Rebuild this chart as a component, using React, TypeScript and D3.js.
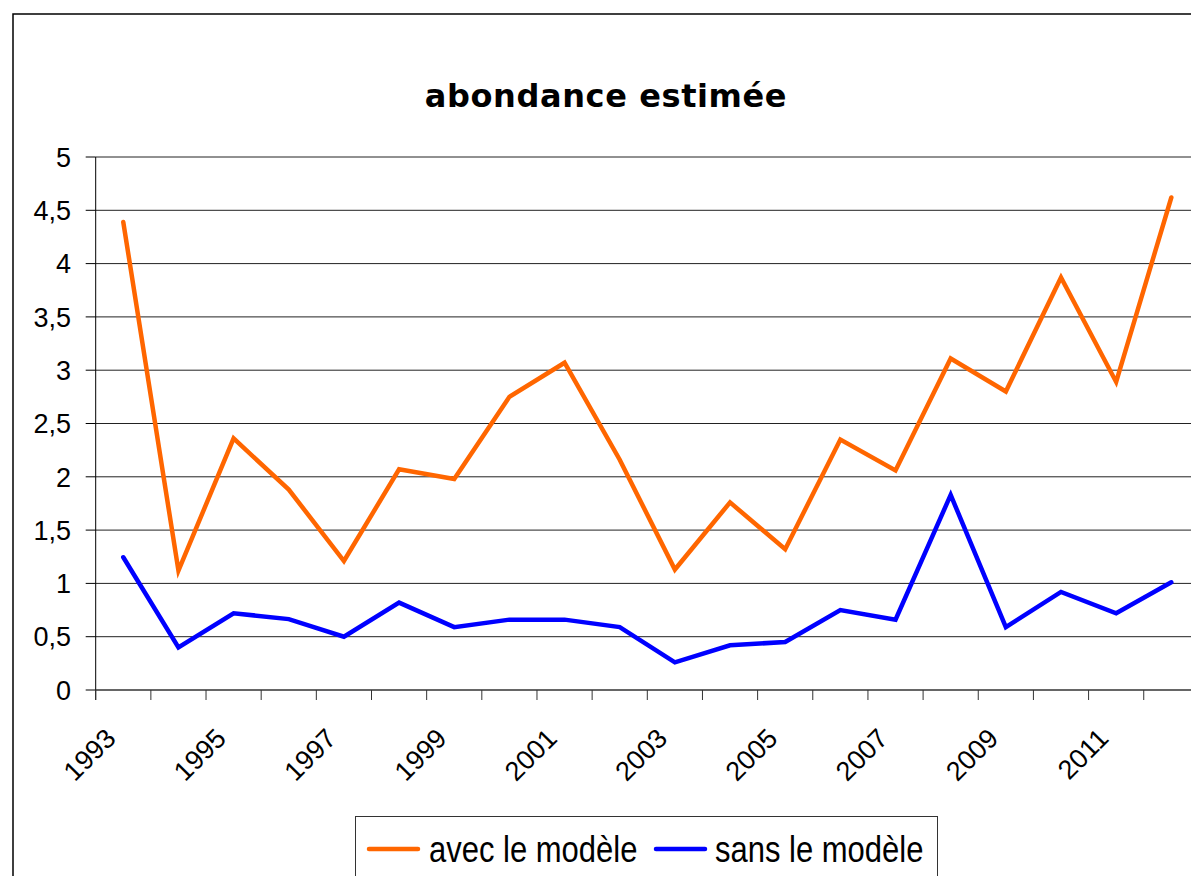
import React from "react";
import * as d3 from "d3";

const years = [
  "1993", "1994", "1995", "1996", "1997", "1998", "1999", "2000", "2001", "2002",
  "2003", "2004", "2005", "2006", "2007", "2008", "2009", "2010", "2011", "2012",
];

const avecModele = [
  4.39, 1.12, 2.36, 1.88, 1.21, 2.07, 1.98, 2.75, 3.07, 2.16,
  1.13, 1.76, 1.32, 2.35, 2.06, 3.11, 2.8, 3.87, 2.89, 4.62,
];

const sansModele = [
  1.245, 0.4, 0.72, 0.665, 0.5, 0.82, 0.59, 0.66, 0.66, 0.59,
  0.26, 0.42, 0.45, 0.75, 0.66, 1.83, 0.59, 0.92, 0.72, 1.01,
];

const yTicks = [0, 0.5, 1, 1.5, 2, 2.5, 3, 3.5, 4, 4.5, 5];

const seriesNames = ["avec le modèle", "sans le modèle"];
const seriesColors = ["#FF6600", "#0000FF"];

const W = 1191;
const H = 876;
const font = "'Liberation Sans', Arial, sans-serif";

const App: React.FC = () => {
  const x = d3.scaleBand<string>().domain(years).range([95.7, 1198.9]).padding(0);
  const y = d3.scaleLinear().domain([0, 5]).range([690, 157]);

  const cx = (yr: string) => (x(yr) ?? 0) + x.bandwidth() / 2;

  const line = d3
    .line<number>()
    .x((_, i) => cx(years[i]))
    .y((d) => y(d));

  const fmt = (v: number) => String(v).replace(".", ",");

  const [x0, x1] = x.range();

  // legend entries: line start x, text start x
  const legendPos = [
    { lx: 369, tx: 429 },
    { lx: 656, tx: 715 },
  ];

  return (
    <div style={{ position: "absolute", left: 0, top: 0 }}>
      <svg width={W} height={H} style={{ display: "block", background: "#fff" }}>
        {/* chart frame */}
        <rect x={13} y={14} width={W + 20} height={H + 20} fill="#fff" stroke="#000" strokeWidth={1.5} />

        <text
          x={606}
          y={107}
          textAnchor="middle"
          fontFamily="'DejaVu Sans', Verdana, sans-serif"
          fontWeight="bold"
          fontSize={32}
          letterSpacing={0.6}
        >
          abondance estimée
        </text>

        {/* grid lines */}
        {yTicks.slice(1).map((t) => (
          <line key={t} x1={x0} x2={x1} y1={y(t)} y2={y(t)} stroke="#222" strokeWidth={1} />
        ))}

        {/* y axis */}
        <line x1={x0} x2={x0} y1={y(5)} y2={700} stroke="#000" strokeWidth={1} />
        {yTicks.map((t) => (
          <g key={t}>
            <line x1={x0 - 10} x2={x0} y1={y(t)} y2={y(t)} stroke="#000" />
            <text
              x={71}
              y={y(t)}
              dy="0.36em"
              textAnchor="end"
              fontFamily={font}
              fontSize={27}
              fill="#000"
            >
              {fmt(t)}
            </text>
          </g>
        ))}

        {/* x axis */}
        <line x1={x0} x2={x1} y1={y(0)} y2={y(0)} stroke="#333" strokeWidth={1.5} />
        {years.map((yr) => (
          <line
            key={yr}
            x1={x(yr) ?? 0}
            x2={x(yr) ?? 0}
            y1={y(0)}
            y2={y(0) + 10}
            stroke="#333"
          />
        ))}
        {years
          .filter((_, i) => i % 2 === 0)
          .map((yr) => (
            <text
              key={yr}
              transform={`translate(${cx(yr) - 6},${740}) rotate(-45)`}
              textAnchor="end"
              fontFamily={font}
              fontSize={27}
              fill="#000"
            >
              {yr}
            </text>
          ))}

        {/* series */}
        {[avecModele, sansModele].map((vals, i) => (
          <path
            key={i}
            d={line(vals) ?? ""}
            fill="none"
            stroke={seriesColors[i]}
            strokeWidth={4.5}
            strokeLinejoin="miter"
            strokeLinecap="round"
          />
        ))}

        {/* legend */}
        <rect x={355.5} y={816.5} width={582} height={80} fill="#fff" stroke="#333" strokeWidth={1} />
        {seriesNames.map((name, i) => {
          const { lx, tx } = legendPos[i];
          return (
            <g key={name}>
              <line
                x1={lx}
                x2={lx + 49}
                y1={849}
                y2={849}
                stroke={seriesColors[i]}
                strokeWidth={4.5}
                strokeLinecap="round"
              />
              <text
                transform={`translate(${tx},862) scale(1,1.22)`}
                fontFamily={font}
                fontSize={31}
                fill="#000"
              >
                {name}
              </text>
            </g>
          );
        })}
      </svg>
    </div>
  );
};

export default App;
